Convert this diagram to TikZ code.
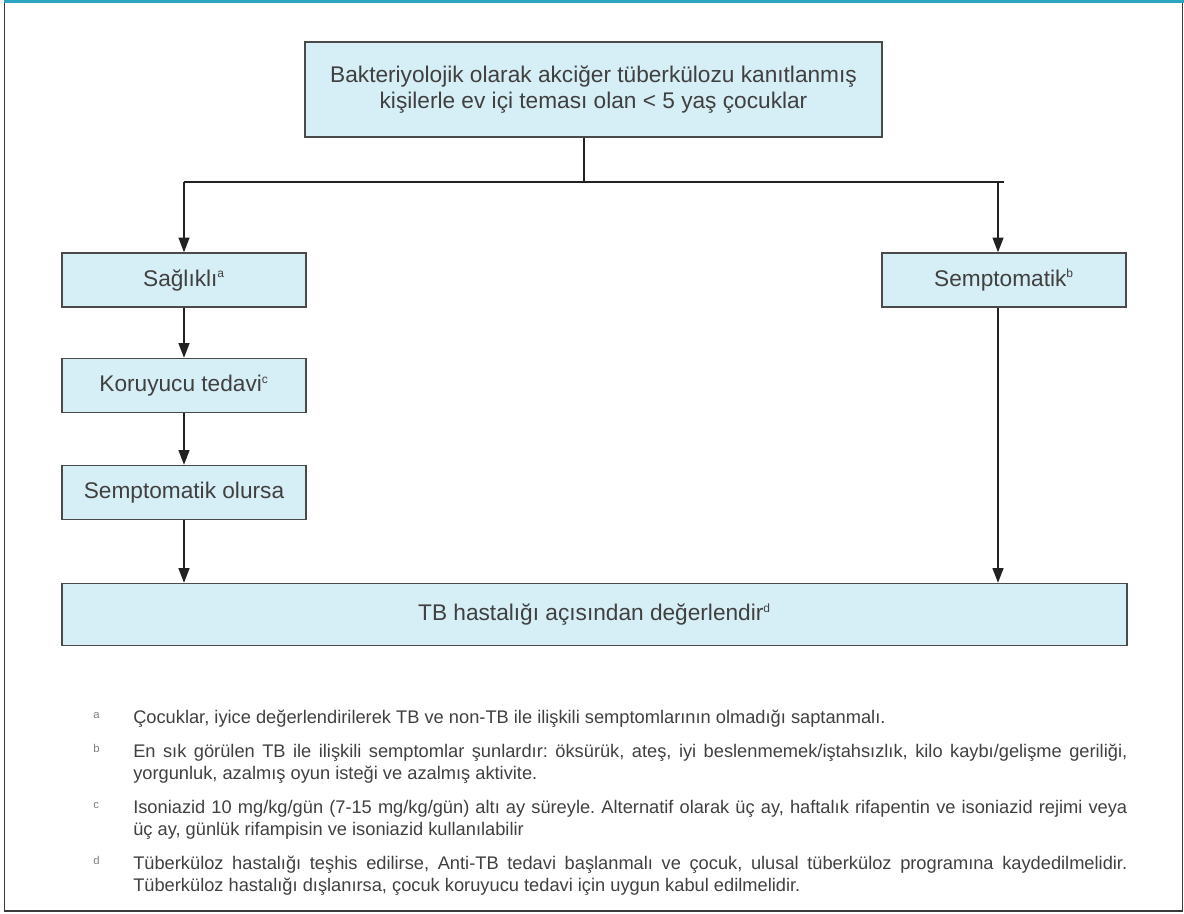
\documentclass[tikz,border=0pt]{standalone}
\usepackage{fontspec}
\setmainfont{Liberation Sans}
\usetikzlibrary{arrows.meta}

\definecolor{boxfill}{HTML}{D6EEF5}
\definecolor{boxline}{HTML}{4A4A4A}
\definecolor{ink}{HTML}{404040}
\definecolor{wire}{HTML}{222222}
\definecolor{frameline}{HTML}{3A3A3A}
\definecolor{topband}{HTML}{2BA5C2}
\definecolor{noteletter}{HTML}{808080}

\tikzset{
  flowbox/.style={draw=boxline, line width=1.1pt, fill=boxfill, text=ink,
    font=\fontsize{17}{19.5}\selectfont, align=center, inner sep=0pt},
  smallbox/.style={flowbox, minimum width=183pt, minimum height=40.5pt},
  wireline/.style={draw=wire, line width=0.9pt},
  flowarrow/.style={wireline, -{Triangle[width=8.25pt,length=11pt]}},
  notetext/.style={anchor=base west, inner sep=0pt, text=ink,
    font=\fontsize{13.7}{16.5}\selectfont},
  notemark/.style={anchor=base west, inner sep=0pt, text=noteletter,
    font=\fontsize{8.5}{9}\selectfont}
}
\newcommand{\fullline}[1]{\hbox to 745.5pt{#1}}
\newcommand{\sups}[1]{\textsuperscript{\fontsize{9}{9}\selectfont #1}}
\frenchspacing

\begin{document}
\begin{tikzpicture}[x=0.75pt, y=-0.75pt]
  \useasboundingbox (0,0) rectangle (1184,913);

  % outer frame with coloured top band
  \draw[frameline, line width=1.3pt] (4.5,2) rectangle (1182.5,911);
  \draw[topband, line width=2.2pt] (3.5,1.5) -- (1183.5,1.5);

  % boxes
  \node[flowbox, minimum width=432.75pt, minimum height=71.25pt] (top) at (593.5,89.5)
    {Bakteriyolojik olarak akciğer tüberkülozu kanıtlanmış\\kişilerle ev içi teması olan < 5 yaş çocuklar};
  \node[smallbox] (sag) at (184,280) {Sağlıklı\sups{a}};
  \node[smallbox] (sem) at (1004,280) {Semptomatik\sups{b}};
  \node[smallbox] (kor) at (184,385.5) {Koruyucu tedavi\sups{c}};
  \node[smallbox] (sol) at (184,492.5) {Semptomatik olursa};
  \node[flowbox, minimum width=798.75pt, minimum height=46.5pt] (tb) at (594.5,614.5)
    {TB hastalığı açısından değerlendir\sups{d}};

  % branching
  \coordinate (split) at (584,182);
  \coordinate (jl) at (184,182);
  \coordinate (jr) at (998,182);
  \coordinate (jrend) at (1004,182);
  \draw[wireline] (top.south -| split) -- (split);
  \draw[wireline] (jl) -- (jrend);
  \draw[flowarrow] (jl) -- (sag.north);
  \draw[flowarrow] (jr) -- (sem.north -| jr);
  \draw[flowarrow] (sag.south) -- (kor.north);
  \draw[flowarrow] (kor.south) -- (sol.north);
  \draw[flowarrow] (sol.south) -- (tb.north -| sol.south);
  \draw[flowarrow] (sem.south -| jr) -- (tb.north -| jr);

  % notes
  \node[notemark] (ma) at (93,718) {a};
  \node[notetext] (na) at (133,723)
    {Çocuklar, iyice değerlendirilerek TB ve non-TB ile ilişkili semptomlarının olmadığı saptanmalı.};
  \node[notemark] (mb) at (93,752) {b};
  \node[notetext] (nb1) at (133,757)
    {\fullline{En sık görülen TB ile ilişkili semptomlar şunlardır: öksürük, ateş, iyi beslenmemek/iştahsızlık, kilo kaybı/gelişme geriliği,}};
  \node[notetext] (nb2) at (133,779)
    {yorgunluk, azalmış oyun isteği ve azalmış aktivite.};
  \node[notemark] (mc) at (93,808) {c};
  \node[notetext] (nc1) at (133,813)
    {\fullline{Isoniazid 10 mg/kg/gün (7-15 mg/kg/gün) altı ay süreyle. Alternatif olarak üç ay, haftalık rifapentin ve isoniazid rejimi veya}};
  \node[notetext] (nc2) at (133,835)
    {üç ay, günlük rifampisin ve isoniazid kullanılabilir};
  \node[notemark] (md) at (93,864) {d};
  \node[notetext] (nd1) at (133,869)
    {\fullline{Tüberküloz hastalığı teşhis edilirse, Anti-TB tedavi başlanmalı ve çocuk, ulusal tüberküloz programına kaydedilmelidir.}};
  \node[notetext] (nd2) at (133,891)
    {Tüberküloz hastalığı dışlanırsa, çocuk koruyucu tedavi için uygun kabul edilmelidir.};
\end{tikzpicture}
\end{document}
